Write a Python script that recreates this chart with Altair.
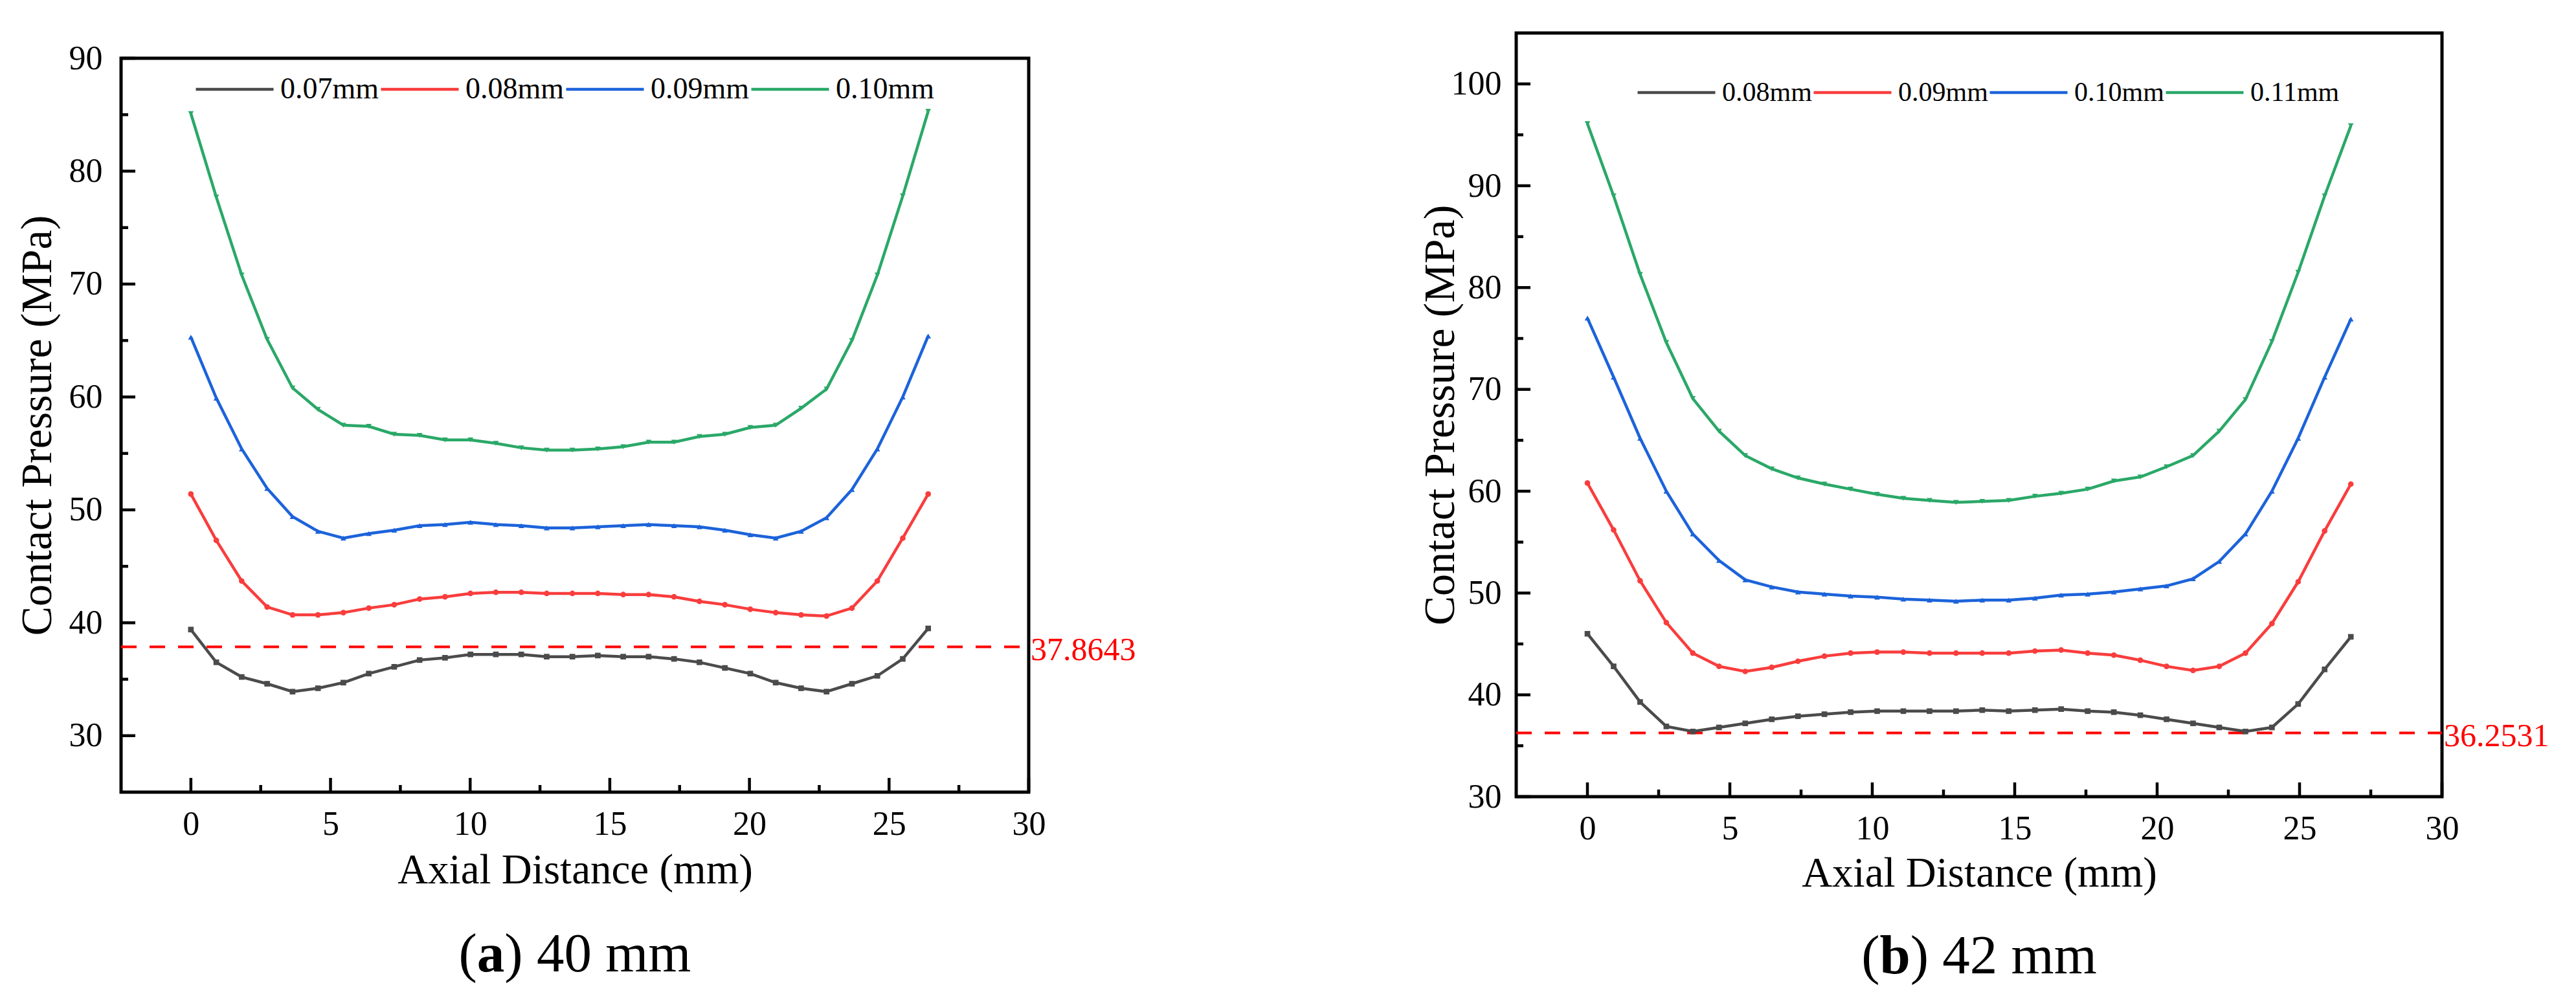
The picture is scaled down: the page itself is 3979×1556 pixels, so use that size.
import altair as alt
import pandas as pd

FONT = "Liberation Serif"

# ---------------- data ----------------
series_a = ["0.07mm", "0.08mm", "0.09mm", "0.10mm"]
series_b = ["0.08mm", "0.09mm", "0.10mm", "0.11mm"]

x_a = [0.00, 0.91, 1.82, 2.73, 3.64, 4.55, 5.46, 6.37, 7.28, 8.19,
       9.10, 10.01, 10.92, 11.83, 12.74, 13.66, 14.57, 15.48, 16.39, 17.30,
       18.21, 19.12, 20.03, 20.94, 21.85, 22.76, 23.67, 24.58, 25.49, 26.40]
x_b = [0.00, 0.92, 1.85, 2.77, 3.70, 4.62, 5.54, 6.47, 7.39, 8.32,
       9.24, 10.17, 11.09, 12.01, 12.94, 13.86, 14.79, 15.71, 16.63, 17.56,
       18.48, 19.41, 20.33, 21.26, 22.18, 23.10, 24.03, 24.95, 25.88, 26.80]

a_007 = [39.4, 36.5, 35.2, 34.6, 33.9, 34.2, 34.7, 35.5, 36.1, 36.7,
         36.9, 37.2, 37.2, 37.2, 37.0, 37.0, 37.1, 37.0, 37.0, 36.8,
         36.5, 36.0, 35.5, 34.7, 34.2, 33.9, 34.6, 35.3, 36.8, 39.5]
a_008 = [51.4, 47.3, 43.7, 41.4, 40.7, 40.7, 40.9, 41.3, 41.6, 42.1,
         42.3, 42.6, 42.7, 42.7, 42.6, 42.6, 42.6, 42.5, 42.5, 42.3,
         41.9, 41.6, 41.2, 40.9, 40.7, 40.6, 41.3, 43.7, 47.5, 51.4]
a_009 = [65.3, 59.9, 55.4, 51.9, 49.4, 48.1, 47.5, 47.9, 48.2, 48.6,
         48.7, 48.9, 48.7, 48.6, 48.4, 48.4, 48.5, 48.6, 48.7, 48.6,
         48.5, 48.2, 47.8, 47.5, 48.1, 49.3, 51.8, 55.4, 60.0, 65.4]
a_010 = [85.1, 77.7, 70.8, 65.1, 60.8, 58.9, 57.5, 57.4, 56.7, 56.6,
         56.2, 56.2, 55.9, 55.5, 55.3, 55.3, 55.4, 55.6, 56.0, 56.0,
         56.5, 56.7, 57.3, 57.5, 59.0, 60.7, 65.0, 70.8, 77.8, 85.3]

b_008 = [46.0, 42.8, 39.3, 36.9, 36.4, 36.8, 37.2, 37.6, 37.9, 38.1,
         38.3, 38.4, 38.4, 38.4, 38.4, 38.5, 38.4, 38.5, 38.6, 38.4,
         38.3, 38.0, 37.6, 37.2, 36.8, 36.4, 36.8, 39.1, 42.5, 45.7]
b_009 = [60.8, 56.2, 51.2, 47.1, 44.1, 42.8, 42.3, 42.7, 43.3, 43.8,
         44.1, 44.2, 44.2, 44.1, 44.1, 44.1, 44.1, 44.3, 44.4, 44.1,
         43.9, 43.4, 42.8, 42.4, 42.8, 44.1, 47.0, 51.1, 56.1, 60.7]
b_010 = [77.0, 71.2, 65.2, 60.0, 55.8, 53.2, 51.3, 50.6, 50.1, 49.9,
         49.7, 49.6, 49.4, 49.3, 49.2, 49.3, 49.3, 49.5, 49.8, 49.9,
         50.1, 50.4, 50.7, 51.4, 53.1, 55.8, 60.0, 65.2, 71.2, 76.9]
b_011 = [96.1, 89.0, 81.3, 74.6, 69.1, 65.9, 63.5, 62.2, 61.3, 60.7,
         60.2, 59.7, 59.3, 59.1, 58.9, 59.0, 59.1, 59.5, 59.8, 60.2,
         61.0, 61.4, 62.4, 63.5, 65.9, 69.0, 74.7, 81.5, 89.0, 95.9]

threshold_a = 37.8643
threshold_a_label = "37.8643"
threshold_b = 36.2531
threshold_b_label = "36.2531"

x_domain = [-2.5, 30]
y_domain_a = [25, 90]
y_domain_b = [30, 105]
x_major = [0, 5, 10, 15, 20, 25, 30]
x_minor = [2.5, 7.5, 12.5, 17.5, 22.5, 27.5]
y_major_a = [30, 40, 50, 60, 70, 80, 90]
y_minor_a = [35, 45, 55, 65, 75, 85]
y_major_b = [30, 40, 50, 60, 70, 80, 90, 100]
y_minor_b = [35, 45, 55, 65, 75, 85, 95]

# ---------------- styles ----------------
COLORS = ["#4b4b4b", "#f93d3d", "#1c63da", "#2aa868"]
SHAPES = ["square", "circle", "triangle-up", "triangle-down"]
RED = "#ff0000"


def panel(xvals, names, values, ydom, ymaj, ymin, thr, thr_label,
          W, H, leg_x, leg_y, leg_fs, ylab_pad, ytitle_x, xtitle_y,
          sub_letter, sub_rest, sub_y, letter_w):
    rows = []
    for i, (n, vals) in enumerate(zip(names, values)):
        for xv, yv in zip(xvals, vals):
            rows.append({"x": xv, "y": yv, "s": n,
                         "fill": COLORS[i], "shape": SHAPES[i]})
    df = pd.DataFrame(rows)

    xs = alt.Scale(domain=x_domain, nice=False, zero=False)
    ys = alt.Scale(domain=ydom, nice=False, zero=False)
    xaxis = alt.Axis(values=x_major, title="Axial Distance (mm)", ticks=False,
                     tickSize=0, domain=False, grid=False, labelPadding=24,
                     labelFlush=False, labelOverlap=False, labelFontSize=52,
                     titleFontSize=65, titleY=xtitle_y,
                     titleBaseline="alphabetic")
    yaxis = alt.Axis(values=ymaj, title="Contact Pressure (MPa)", ticks=False,
                     tickSize=0, domain=False, grid=False,
                     labelPadding=ylab_pad, labelOverlap=False,
                     labelFontSize=52, titleFontSize=68, titleX=ytitle_x,
                     titleBaseline="alphabetic")
    x_enc = alt.X("x:Q", scale=xs, axis=xaxis)
    y_enc = alt.Y("y:Q", scale=ys, axis=yaxis)

    thr_rule = alt.Chart(pd.DataFrame({"y": [thr]})).mark_rule(
        color=RED, strokeWidth=4, strokeDash=[24, 20]
    ).encode(y=y_enc, x=alt.value(0), x2=alt.value(W))

    lines = alt.Chart(df).mark_line(strokeWidth=4.5).encode(
        x=x_enc, y=y_enc,
        color=alt.Color(
            "s:N",
            scale=alt.Scale(domain=names, range=COLORS),
            legend=alt.Legend(
                title=None, orient="none", legendX=leg_x, legendY=leg_y,
                direction="horizontal", symbolType="stroke",
                symbolSize=14400, symbolStrokeWidth=4.5, clipHeight=46,
                labelFont=FONT, labelFontSize=leg_fs, labelColor="black",
                labelOffset=8, columnPadding=0, padding=0, labelLimit=500,
            ),
        ),
    )
    points = alt.Chart(df).mark_point(filled=True, size=75, opacity=1).encode(
        x=x_enc, y=y_enc,
        fill=alt.Fill("fill:N", scale=None),
        shape=alt.Shape("shape:N", scale=None),
    )

    ytm = alt.Chart(pd.DataFrame({"y": ymaj})).mark_rule(
        color="black", strokeWidth=4.5
    ).encode(y=y_enc, x=alt.value(0), x2=alt.value(22))
    ytn = alt.Chart(pd.DataFrame({"y": ymin})).mark_rule(
        color="black", strokeWidth=4.5
    ).encode(y=y_enc, x=alt.value(0), x2=alt.value(11))
    xtm = alt.Chart(pd.DataFrame({"x": x_major})).mark_rule(
        color="black", strokeWidth=4.5
    ).encode(x=x_enc, y=alt.value(H), y2=alt.value(H - 22))
    xtn = alt.Chart(pd.DataFrame({"x": x_minor})).mark_rule(
        color="black", strokeWidth=4.5
    ).encode(x=x_enc, y=alt.value(H), y2=alt.value(H - 11))

    thr_text = alt.Chart(pd.DataFrame({"y": [thr], "t": [thr_label]})).mark_text(
        align="left", baseline="middle", dy=5, fontSize=50, font=FONT, color=RED
    ).encode(y=y_enc, x=alt.value(W + 3), text="t:N")

    fs = 85
    paren_w = 0.333 * fs
    rest_w = 3.389 * fs
    total = paren_w + letter_w * fs + rest_w
    x0 = W / 2 - total / 2
    one = pd.DataFrame({"k": [0]})
    sub1 = alt.Chart(one).mark_text(
        align="left", baseline="alphabetic", fontSize=fs, font=FONT, color="black"
    ).encode(x=alt.value(x0), y=alt.value(sub_y), text=alt.value("("))
    sub2 = alt.Chart(one).mark_text(
        align="left", baseline="alphabetic", fontSize=fs, font=FONT,
        fontWeight="bold", color="black"
    ).encode(x=alt.value(x0 + paren_w), y=alt.value(sub_y), text=alt.value(sub_letter))
    sub3 = alt.Chart(one).mark_text(
        align="left", baseline="alphabetic", fontSize=fs, font=FONT, color="black"
    ).encode(x=alt.value(x0 + paren_w + letter_w * fs), y=alt.value(sub_y),
             text=alt.value(sub_rest))

    return alt.layer(thr_rule, lines, points, ytm, ytn, xtm, xtn, thr_text,
                     sub1, sub2, sub3).properties(width=W, height=H)


W_A, H_A = 1402, 1134
W_B, H_B = 1430, 1180

left = panel(x_a, series_a, [a_007, a_008, a_009, a_010], y_domain_a,
             y_major_a, y_minor_a, threshold_a, threshold_a_label,
             W_A, H_A, 113, 25, 46, 29, -109, 140,
             "a", ") 40 mm", 1411, 0.5)
right = panel(x_b, series_b, [b_008, b_009, b_010, b_011], y_domain_b,
              y_major_b, y_minor_b, threshold_b, threshold_b_label,
              W_B, H_B, 185, 69, 42, 23, -97, 138,
              "b", ") 42 mm", 1453, 0.556)

spacer = alt.Chart(pd.DataFrame({"v": [0]})).mark_point(
    opacity=0, size=4
).encode(x=alt.value(5), y=alt.value(5)).properties(
    width=W_A, height=7, view=alt.ViewBackground(stroke="transparent")
)

left_col = alt.vconcat(spacer, left, spacing=0).resolve_scale(
    color="independent"
).resolve_legend(color="independent")

chart = alt.hconcat(left_col, right, spacing=431).resolve_scale(
    x="independent", y="independent", color="independent"
).resolve_legend(color="independent").properties(
    padding={"left": 13, "top": 40, "right": 0, "bottom": 0},
    background="white",
).configure_view(
    stroke="black", strokeWidth=5
).configure_axis(
    labelFont=FONT, titleFont=FONT, labelColor="black", titleColor="black",
    titleFontWeight="normal"
)

chart.save("out.html", embed_options={"renderer": "svg", "actions": False})
